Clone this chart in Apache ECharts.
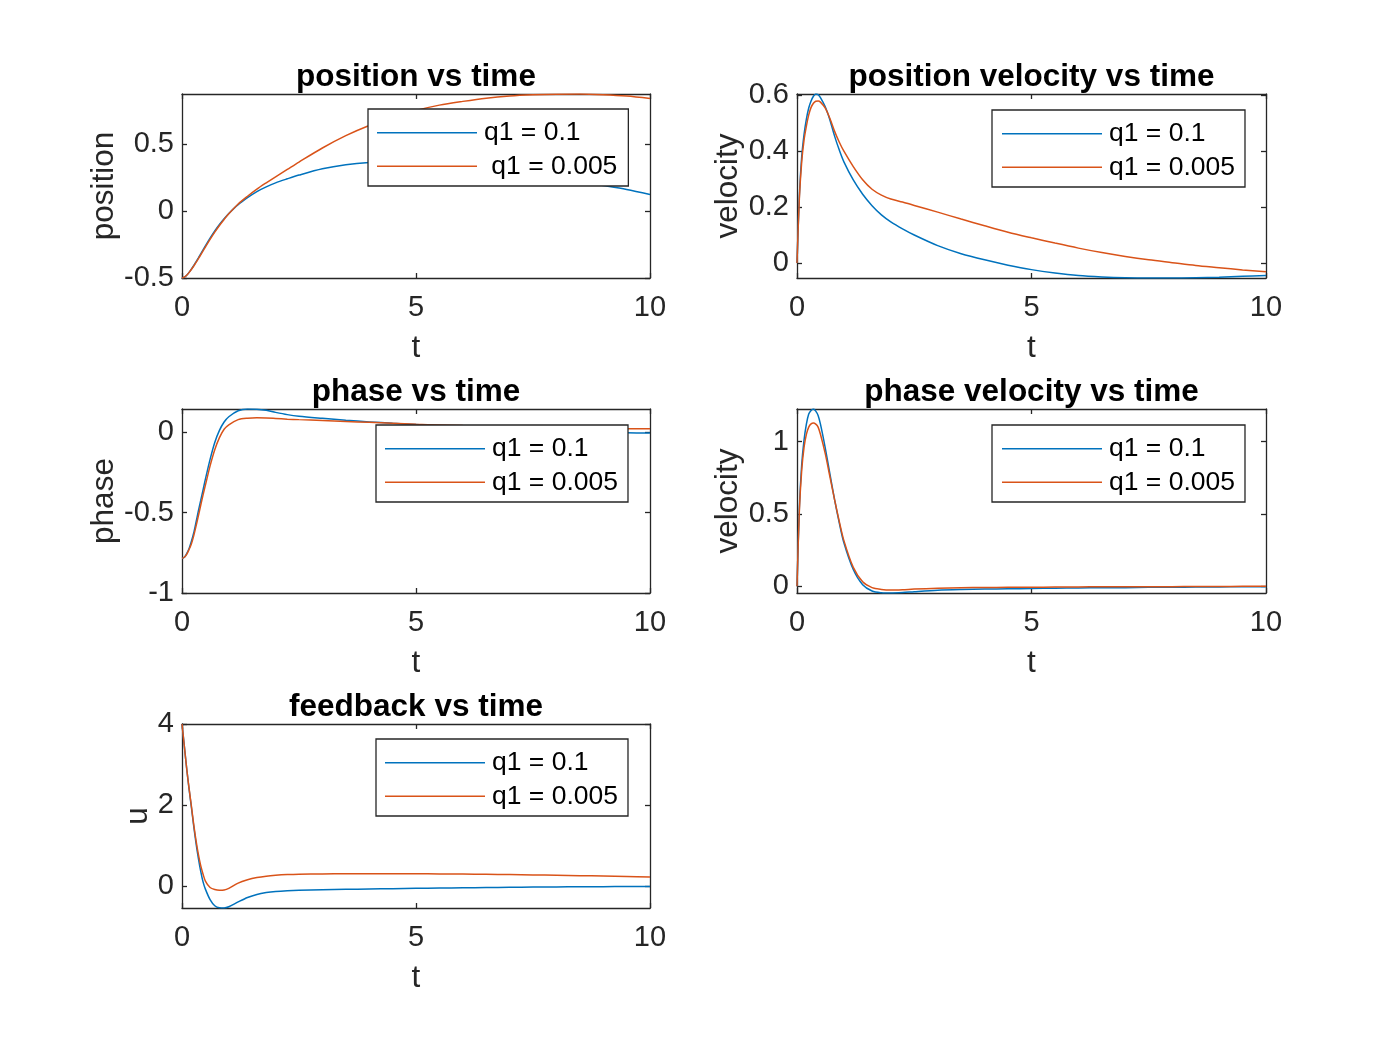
<!DOCTYPE html>
<html>
<head>
<meta charset="utf-8">
<title>q1 comparison</title>
<script src="https://cdn.jsdelivr.net/npm/echarts@6/dist/echarts.min.js"></script>
<style>
  html, body { margin: 0; padding: 0; background: #fff; }
  #main { width: 1400px; height: 1050px; }
</style>
</head>
<body>
<div id="main"></div>
<script>
// sample times (s) shared by every curve
const tPts = [0, 0.05, 0.1, 0.15, 0.2, 0.25, 0.3, 0.35, 0.4, 0.45,
  0.5, 0.6, 0.7, 0.8, 0.9, 1.0, 1.2, 1.4, 1.6, 1.8, 2.0, 2.25, 2.5,
  3, 3.5, 4, 4.5, 5, 5.5, 6, 6.5, 7, 7.5, 8, 8.5, 9, 9.5, 10];

// position
const posA = [-0.5, -0.494, -0.479, -0.458, -0.434, -0.407, -0.379, -0.35, -0.32, -0.29,
  -0.26, -0.203, -0.149, -0.1, -0.057, -0.018, 0.048, 0.1, 0.145, 0.18, 0.21, 0.24, 0.268,
  0.315, 0.345, 0.362, 0.369, 0.366, 0.354, 0.337, 0.316, 0.293, 0.268, 0.243, 0.217, 0.19, 0.161, 0.123];
const posB = [-0.5, -0.494, -0.48, -0.46, -0.437, -0.411, -0.384, -0.356, -0.327, -0.298,
  -0.269, -0.212, -0.158, -0.108, -0.063, -0.021, 0.052, 0.11, 0.163, 0.21, 0.255, 0.31, 0.365,
  0.47, 0.562, 0.638, 0.7, 0.75, 0.79, 0.818, 0.842, 0.858, 0.867, 0.872, 0.873, 0.868, 0.858, 0.84];

// position velocity
const velA = [0, 0.24, 0.38, 0.46, 0.515, 0.555, 0.58, 0.597, 0.605, 0.603,
  0.592, 0.56, 0.513, 0.455, 0.405, 0.362, 0.297, 0.246, 0.205, 0.172, 0.147, 0.122, 0.1,
  0.062, 0.033, 0.011, -0.008, -0.024, -0.036, -0.045, -0.05, -0.053, -0.054, -0.054, -0.053, -0.051, -0.048, -0.045];
const velB = [0, 0.23, 0.362, 0.44, 0.49, 0.53, 0.557, 0.572, 0.579, 0.58,
  0.576, 0.555, 0.518, 0.472, 0.433, 0.4, 0.345, 0.298, 0.264, 0.243, 0.229, 0.218, 0.206,
  0.182, 0.157, 0.133, 0.11, 0.09, 0.071, 0.053, 0.037, 0.023, 0.011, 0.001, -0.009, -0.017, -0.025, -0.032];

// phase
const phA = [-0.785, -0.778, -0.755, -0.725, -0.68, -0.627, -0.56, -0.49, -0.425, -0.36,
  -0.293, -0.17, -0.065, 0.01, 0.062, 0.095, 0.132, 0.143, 0.142, 0.135, 0.122, 0.108, 0.098,
  0.085, 0.073, 0.063, 0.054, 0.046, 0.038, 0.03, 0.022, 0.015, 0.009, 0.004, 0, -0.003, -0.005, -0.006];
const phB = [-0.785, -0.778, -0.76, -0.73, -0.695, -0.645, -0.585, -0.52, -0.455, -0.39,
  -0.33, -0.21, -0.11, -0.035, 0.017, 0.045, 0.077, 0.086, 0.088, 0.087, 0.084, 0.08, 0.077,
  0.072, 0.066, 0.06, 0.054, 0.048, 0.044, 0.04, 0.037, 0.034, 0.031, 0.028, 0.026, 0.023, 0.021, 0.02];

// phase velocity
const pvA = [0, 0.54, 0.84, 1.01, 1.12, 1.19, 1.215, 1.225, 1.21, 1.18,
  1.12, 0.96, 0.78, 0.6, 0.44, 0.3, 0.115, 0.01, -0.033, -0.045, -0.047, -0.044, -0.038,
  -0.028, -0.023, -0.02, -0.018, -0.016, -0.014, -0.012, -0.011, -0.01, -0.008, -0.007, -0.006, -0.005, -0.004, -0.003];
const pvB = [0, 0.52, 0.8, 0.96, 1.05, 1.1, 1.122, 1.128, 1.12, 1.1,
  1.05, 0.92, 0.76, 0.6, 0.45, 0.315, 0.13, 0.03, -0.01, -0.022, -0.026, -0.024, -0.02,
  -0.015, -0.011, -0.009, -0.008, -0.007, -0.006, -0.005, -0.004, -0.004, -0.003, -0.003, -0.002, -0.002, -0.001, 0];

// feedback u
const uA = [4, 3.45, 2.9, 2.4, 1.95, 1.48, 1.05, 0.68, 0.36, 0.1,
  -0.08, -0.34, -0.49, -0.54, -0.545, -0.515, -0.395, -0.285, -0.21, -0.165, -0.137, -0.117, -0.105,
  -0.093, -0.084, -0.076, -0.068, -0.061, -0.054, -0.047, -0.041, -0.035, -0.03, -0.025, -0.021, -0.018, -0.015, -0.013];
const uB = [4, 3.45, 2.9, 2.42, 1.98, 1.52, 1.12, 0.78, 0.5, 0.29,
  0.12, -0.04, -0.09, -0.106, -0.1, -0.06, 0.07, 0.15, 0.205, 0.24, 0.262, 0.28, 0.29,
  0.297, 0.3, 0.302, 0.302, 0.3, 0.297, 0.292, 0.286, 0.279, 0.271, 0.262, 0.253, 0.243, 0.233, 0.222];

// tick labels
const xTicks = [0, 5, 10];
const posTicks = [-0.5, 0, 0.5];
const velTicks = [0, 0.2, 0.4, 0.6];
const phTicks = [-1, -0.5, 0];
const pvTicks = [0, 0.5, 1];
const uTicks = [0, 2, 4];

const namesPos = ['q1 = 0.1', ' q1 = 0.005'];
const names = ['q1 = 0.1', 'q1 = 0.005'];

const FONT = "'Liberation Sans', Arial, Helvetica, sans-serif";
const AX = '#262626';
const BLUE = '#0072BD';
const RED = '#D95319';

// subplot boxes (px) and legend boxes
const panels = [
  { title: 'position vs time', yName: 'position', a: posA, b: posB, ticks: posTicks, yMin: -0.5, yMax: 0.873,
    names: namesPos, box: [182, 94, 468, 184], legend: [368, 109], legendPad: [7, 11, 3, 9], nameGap: 62 },
  { title: 'position velocity vs time', yName: 'velocity', a: velA, b: velB, ticks: velTicks, yMin: -0.054, yMax: 0.605,
    names: names, box: [797, 94, 469, 184], legend: [992, 110], legendPad: [7, 10, 3, 10], nameGap: 43 },
  { title: 'phase vs time', yName: 'phase', a: phA, b: phB, ticks: phTicks, yMin: -1, yMax: 0.143,
    names: names, box: [182, 409, 468, 184], legend: [376, 425], legendPad: [7, 10, 3, 9], nameGap: 56 },
  { title: 'phase velocity vs time', yName: 'velocity', a: pvA, b: pvB, ticks: pvTicks, yMin: -0.047, yMax: 1.225,
    names: names, box: [797, 409, 469, 184], legend: [992, 425], legendPad: [7, 10, 3, 10], nameGap: 43 },
  { title: 'feedback vs time', yName: 'u', a: uA, b: uB, ticks: uTicks, yMin: -0.546, yMax: 4,
    names: names, box: [182, 724, 468, 184], legend: [376, 739], legendPad: [7, 10, 3, 9], nameGap: 27 }
];

const lineAx = { show: true, onZero: false, lineStyle: { color: AX, width: 1.3 } };
const tick = (vals) => ({ show: true, inside: true, length: 5, customValues: vals, lineStyle: { color: AX, width: 1.3 } });
const lbl = (vals, margin) => ({ show: true, customValues: vals, margin: margin, fontSize: 29, color: AX,
  fontFamily: FONT, formatter: (v) => String(v) });

const grid = [], xAxis = [], yAxis = [], series = [], title = [], legend = [];

panels.forEach((p, i) => {
  const [gl, gt, gw, gh] = p.box;
  grid.push({ left: gl, top: gt, width: gw, height: gh, containLabel: false });

  xAxis.push({
    gridIndex: i, type: 'value', position: 'bottom', min: 0, max: 10,
    axisLine: lineAx, axisTick: tick(xTicks), axisLabel: lbl(xTicks, 15), splitLine: { show: false },
    name: 't', nameLocation: 'middle', nameGap: 54,
    nameTextStyle: { fontSize: 31.5, color: AX, fontFamily: FONT }
  });
  xAxis.push({
    gridIndex: i, type: 'value', position: 'top', min: 0, max: 10,
    axisLine: lineAx, axisTick: tick(xTicks), axisLabel: { show: false }, splitLine: { show: false }
  });

  yAxis.push({
    gridIndex: i, type: 'value', position: 'left', min: p.yMin, max: p.yMax,
    axisLine: lineAx, axisTick: tick(p.ticks), axisLabel: lbl(p.ticks, 8), splitLine: { show: false },
    name: p.yName, nameLocation: 'middle', nameGap: p.nameGap, nameRotate: 90,
    nameTextStyle: { fontSize: 31.5, color: AX, fontFamily: FONT }
  });
  yAxis.push({
    gridIndex: i, type: 'value', position: 'right', min: p.yMin, max: p.yMax,
    axisLine: lineAx, axisTick: tick(p.ticks), axisLabel: { show: false }, splitLine: { show: false }
  });

  [[p.a, BLUE, p.names[0]], [p.b, RED, p.names[1]]].forEach(([vals, color, name]) => {
    series.push({
      name: name, type: 'line', xAxisIndex: 2 * i, yAxisIndex: 2 * i,
      data: tPts.map((t, k) => [t, vals[k]]),
      showSymbol: false, symbol: 'none', smooth: 0.3,
      lineStyle: { color: color, width: 1.5 }, itemStyle: { color: color },
      emphasis: { disabled: true }
    });
  });

  title.push({
    text: p.title, left: gl + gw / 2, top: gt - 33, textAlign: 'center', padding: 0,
    textStyle: { fontSize: 31.5, fontWeight: 'bold', color: '#000', fontFamily: FONT }
  });

  legend.push({
    data: p.names, orient: 'vertical', left: p.legend[0], top: p.legend[1],
    padding: p.legendPad, itemGap: 0, itemWidth: 100, itemHeight: 1.5, icon: 'rect',
    backgroundColor: '#fff', borderColor: AX, borderWidth: 1.3, borderRadius: 0,
    selectedMode: false,
    textStyle: { fontSize: 26.5, color: '#000', fontFamily: FONT, lineHeight: 33.5, padding: [0, 0, 0, 2] }
  });
});

const chart = echarts.init(document.getElementById('main'));
chart.setOption({
  animation: false,
  backgroundColor: '#fff',
  textStyle: { fontFamily: FONT },
  title: title,
  legend: legend,
  grid: grid,
  xAxis: xAxis,
  yAxis: yAxis,
  series: series
});
</script>
</body>
</html>
